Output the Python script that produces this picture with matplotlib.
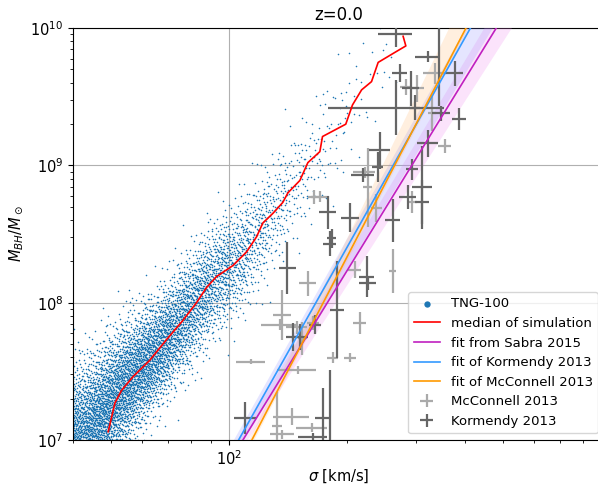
import numpy as np
import matplotlib
matplotlib.use('Agg')
import matplotlib.pyplot as plt
from matplotlib.ticker import NullFormatter
from statistics import NormalDist

# ---------- TNG-100 cloud, read per bin of log(sigma) ----------
# bin centres in log10(sigma), number of galaxies, ridge log(M_BH), scatter in dex
sim_logsig = [1.625, 1.675, 1.725, 1.775, 1.825, 1.875, 1.925, 1.975, 2.025,
              2.075, 2.125, 2.175, 2.225, 2.275, 2.325, 2.375, 2.425]
sim_count = [900, 900, 820, 730, 640, 540, 440, 350, 260,
             180, 110, 68, 42, 27, 15, 9, 5]
sim_ridge = [7.00, 7.17, 7.36, 7.52, 7.67, 7.85, 8.03, 8.20, 8.32,
             8.50, 8.69, 8.88, 9.08, 9.25, 9.48, 9.68, 9.82]
sim_spread = [0.27, 0.25, 0.23, 0.21, 0.2, 0.2, 0.2, 0.2, 0.2,
              0.2, 0.2, 0.21, 0.21, 0.22, 0.22, 0.22, 0.22]
bin_width = 0.05

# median of simulation
med_sigma = [49.2, 51.2, 53.2, 56.9, 62.8, 69.3, 76.3, 82.7, 87.7, 93.0, 102.4,
             111.0, 117.7, 122.1, 129.5, 137.3, 141.5, 151.8, 159.1, 170.7, 173.4,
             198.8, 206.8, 218.2, 231.3, 240.5, 267.9, 283.0, 278.5]
med_logm = [7.06, 7.27, 7.36, 7.46, 7.58, 7.73, 7.87, 8.00, 8.11, 8.19, 8.27,
            8.37, 8.48, 8.58, 8.65, 8.73, 8.80, 8.89, 9.02, 9.10, 9.21,
            9.30, 9.44, 9.55, 9.61, 9.75, 9.83, 9.87, 9.94]

# fits: log M = a + b log(sigma/200), band edges as (a, b) pairs
fit_names = ['fit from Sabra 2015', 'fit of Kormendy 2013', 'fit of McConnell 2013']
fit_a = [8.23, 8.40, 8.33]
fit_b = [4.64, 5.07, 5.49]
band_hi_a = [8.324, 8.46, 8.463]
band_hi_b = [4.768, 5.07, 5.875]
band_lo_a = [8.122, 8.242, 8.295]
band_lo_b = [4.456, 4.715, 5.49]

# Kormendy & Ho 2013 sample
kor_sigma = [267, 267, 343, 322, 377, 273, 291, 298, 348, 387, 322, 243, 240, 220,
             294, 312, 286, 311, 179, 204, 262, 183, 141, 181, 225, 226, 189, 152,
             166, 110, 174, 181, 164, 146]
kor_sigma_err = [27, 88, 8, 23, 20, 12, 15, 10, 18, 15, 20, 15, 8, 15,
                 10, 18, 14, 13, 9, 11, 12, 5, 7, 7, 10, 11, 8, 7,
                 6, 7, 8, 3, 14, 6]
kor_logm = [9.96, 9.42, 10.05, 9.79, 9.67, 9.67, 9.56, 9.42, 9.38, 9.34, 9.16, 9.11,
            8.99, 8.93, 8.97, 8.84, 8.77, 8.73, 8.66, 8.62, 8.60, 8.47, 8.25, 8.43,
            8.19, 8.14, 7.95, 7.75, 7.84, 7.16, 7.16, 6.95, 7.02, 7.75]
kor_logm_err = [0.10, 0.20, 0.62, 0.04, 0.09, 0.065, 0.13, 0.09, 0.055, 0.08, 0.10,
                0.135, 0.11, 0.05, 0.08, 0.30, 0.09, 0.16, 0.12, 0.105, 0.155, 0.07,
                0.19, 0.09, 0.15, 0.05, 0.35, 0.095, 0.07, 0.12, 0.22, 0.56, 0.03, 0.10]

# McConnell & Ma 2013 sample
mcc_sigma = [336, 356, 303, 330, 284, 226, 222, 294, 262, 210, 159, 171, 137, 135,
             149, 154, 114, 150, 184, 204, 216, 145, 163, 133, 137, 164, 165, 238]
mcc_sigma_err = [23, 14, 12, 8, 10, 6, 14, 8, 5, 8, 8, 9, 7.5, 14,
                 9, 4, 9.5, 17, 6, 7, 8, 15, 15, 4, 10, 6, 6, 8]
mcc_logm = [9.67, 9.14, 9.56, 9.38, 9.57, 8.84, 8.95, 8.73, 8.23, 8.24, 8.14, 8.77,
            7.91, 7.84, 7.82, 7.74, 7.57, 7.51, 7.60, 7.60, 7.85, 7.17, 7.09, 7.10,
            7.04, 7.85, 8.77, 8.69]
mcc_logm_err = [0.075, 0.05, 0.10, 0.13, 0.06, 0.29, 0.04, 0.08, 0.16, 0.06, 0.09,
                0.04, 0.18, 0.04, 0.05, 0.12, 0.02, 0.03, 0.04, 0.03, 0.08, 0.06,
                0.03, 0.25, 0.03, 0.05, 0.05, 0.10]

# ---------- build the simulated cloud from the binned description ----------
# points spread inside each bin with a low-discrepancy (Halton) sequence
def halton(idx, base):
    out = np.zeros(len(idx))
    f = 1.0
    i = idx.astype(float).copy()
    while np.any(i > 0):
        f /= base
        out += f * (i % base)
        i = np.floor(i / base)
    return out


nd = NormalDist()
xs, ys = [], []
start = 1
for c, n, s in zip(sim_logsig, sim_count, sim_spread):
    k = np.arange(start, start + n)
    start += n
    u1 = halton(k, 2)
    u2 = halton(k, 3)
    lx = c - bin_width / 2 + u1 * bin_width
    ridge = np.interp(lx, sim_logsig, sim_ridge)
    ly = ridge + s * np.array([nd.inv_cdf(min(max(u, 1e-4), 1 - 1e-4)) for u in u2])
    xs.append(10 ** lx)
    ys.append(10 ** ly)
xs = np.concatenate(xs)
ys = np.concatenate(ys)


def log_err(logm, err):
    logm = np.asarray(logm)
    err = np.asarray(err)
    m = 10 ** logm
    return m, np.vstack([m - 10 ** (logm - err), 10 ** (logm + err) - m])


fig = plt.figure(figsize=(5.98, 4.84), dpi=100)
ax = fig.add_axes([0.122, 0.091, 0.889, 0.851])

ax.scatter(xs, ys, s=1.3, color='#1f77b4', linewidths=0, label='TNG-100', zorder=2)
ax.plot(med_sigma, 10 ** np.array(med_logm), color='red', lw=1.2,
        label='median of simulation', zorder=5)

sig_line = np.logspace(np.log10(40), np.log10(1000), 200)
lsig = np.log10(sig_line / 200.0)
fit_colors = ['#c020c0', '#3399ff', '#ff9900']
band_colors = ['violet', '#8080ff', '#ffb060']
band_alpha = [0.22, 0.2, 0.2]
for i in range(3):
    y = 10 ** (fit_a[i] + fit_b[i] * lsig)
    yh = 10 ** (band_hi_a[i] + band_hi_b[i] * lsig)
    yl = 10 ** (band_lo_a[i] + band_lo_b[i] * lsig)
    ax.fill_between(sig_line, yl, yh, color=band_colors[i], alpha=band_alpha[i],
                    lw=0, zorder=3)
    ax.plot(sig_line, y, color=fit_colors[i], lw=1.2, label=fit_names[i], zorder=5)

m, merr = log_err(mcc_logm, mcc_logm_err)
ax.errorbar(mcc_sigma, m, xerr=mcc_sigma_err, yerr=merr, fmt='none',
            ecolor='#aaaaaa', elinewidth=1.6, label='McConnell 2013', zorder=4)
m, merr = log_err(kor_logm, kor_logm_err)
ax.errorbar(kor_sigma, m, xerr=kor_sigma_err, yerr=merr, fmt='none',
            ecolor='#666666', elinewidth=1.6, label='Kormendy 2013', zorder=4)

ax.set_xscale('log')
ax.set_yscale('log')
ax.set_xlim(40, 910)
ax.set_ylim(1e7, 1e10)
ax.xaxis.set_minor_formatter(NullFormatter())
ax.tick_params(labelsize=10.5)
ax.grid(True, which='major', color='#b0b0b0', lw=0.8)
ax.set_axisbelow(True)
ax.set_xlabel(r'$\sigma$ [km/s]', fontsize=10.5, labelpad=-0.5)
ax.set_ylabel(r'$M_{BH}/M_\odot$', fontsize=10.5)
ax.set_title('z=0.0', fontsize=12)
ax.legend(loc='lower right', fontsize=9.5, markerscale=4)

fig.savefig('out.png', dpi=100)
